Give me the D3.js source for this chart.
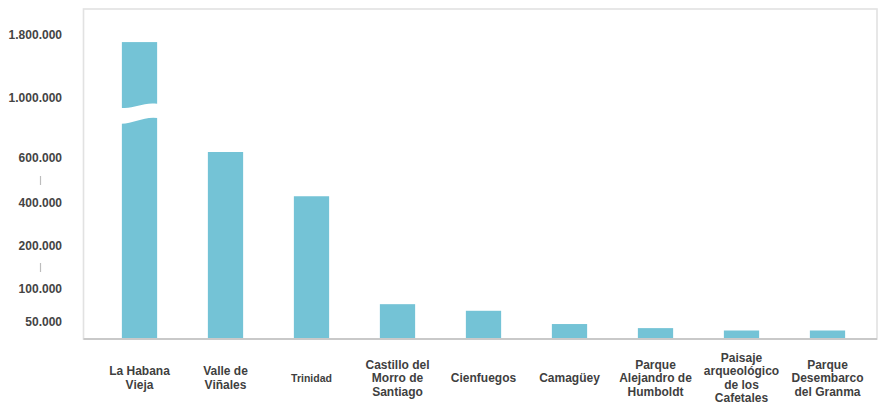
<!DOCTYPE html>
<html>
<head>
<meta charset="utf-8">
<script src="https://cdn.jsdelivr.net/npm/d3@7"></script>
<style>
  html, body { margin: 0; padding: 0; background: #fff; }
  svg { display: block; }
</style>
</head>
<body>
<div id="chart"></div>
<script>
// ---- data ----
const SITES = [
  ['La Habana', 'Vieja'],
  ['Valle de', 'Viñales'],
  ['Trinidad'],
  ['Castillo del', 'Morro de', 'Santiago'],
  ['Cienfuegos'],
  ['Camagüey'],
  ['Parque', 'Alejandro de', 'Humboldt'],
  ['Paisaje', 'arqueológico', 'de los', 'Cafetales'],
  ['Parque', 'Desembarco', 'del Granma']
];
const VISITORS = [1710000, 640000, 430000, 77000, 67000, 44000, 32000, 25000, 25000];

// broken, piecewise axis
const Y_TICKS = [50000, 100000, 200000, 400000, 600000, 1000000, 1800000];
const Y_BREAKS = [150000, 500000];   // little "|" marks between labels
const BAR_BREAK = 1000000;           // where the tall bar is cut

const W = 884, H = 412;
const m = { t: 9, r: 7, b: 73, l: 83.5 };
const fmt = d3.formatLocale({ decimal: ',', thousands: '.', grouping: [3], currency: ['', ''] }).format(',d');

const svg = d3.select('#chart').append('svg')
  .attr('width', W).attr('height', H);

const names = SITES.map(s => s.join(' '));

const x = d3.scaleBand()
  .domain(names)
  .range([96.5, 870.5])
  .paddingInner(0.59)
  .paddingOuter(0.295);

// polylinear scale mimics the hand-spaced axis of the original
const y = d3.scaleLinear()
  .domain([0, 50000, 100000, 200000, 400000, 600000, 1000000, 1800000])
  .range([339, 322, 289, 246, 203, 158, 98, 35]);

// frame
svg.append('rect')
  .attr('x', m.l).attr('y', m.t)
  .attr('width', W - m.r - m.l).attr('height', 339 - m.t)
  .attr('fill', 'none')
  .attr('stroke', '#e2e2e2').attr('stroke-width', 1.6);

// bars
svg.append('g').selectAll('rect').data(VISITORS).join('rect')
  .attr('x', (d, i) => x(names[i]))
  .attr('width', x.bandwidth())
  .attr('y', d => y(d))
  .attr('height', d => y(0) - y(d))
  .attr('fill', '#74c3d6');

// wavy cut through the tallest bar
const bi = VISITORS.indexOf(d3.max(VISITORS));
const bx0 = x(names[bi]) - 7, bx1 = x(names[bi]) + x.bandwidth() + 5;
const by = y(BAR_BREAK);
const bw = bx1 - bx0;
svg.append('path')
  .attr('d', `M${bx0},${by + 8}
    C${bx0 + bw * 0.35},${by + 15} ${bx0 + bw * 0.6},${by + 1} ${bx1},${by + 7}
    L${bx1},${by + 21}
    C${bx0 + bw * 0.6},${by + 16} ${bx0 + bw * 0.35},${by + 29} ${bx0},${by + 25} Z`)
  .attr('fill', '#fff');

// baseline
svg.append('line')
  .attr('x1', m.l).attr('x2', W - m.r)
  .attr('y1', y(0)).attr('y2', y(0))
  .attr('stroke', '#c9c9c9').attr('stroke-width', 2);

// y axis labels
const yAxis = svg.append('g')
  .attr('transform', `translate(${m.l},0)`)
  .call(d3.axisLeft(y).tickValues(Y_TICKS).tickFormat(fmt).tickSize(0).tickPadding(21.5));
yAxis.select('.domain').remove();
yAxis.selectAll('text')
  .attr('font-family', 'Liberation Sans, Arial, sans-serif')
  .attr('font-weight', 700)
  .attr('font-size', 12)
  .attr('fill', '#444');

// break marks on the axis
svg.append('g').selectAll('line').data(Y_BREAKS).join('line')
  .attr('x1', 40.5).attr('x2', 40.5)
  .attr('y1', d => y(d) - 4.5).attr('y2', d => y(d) + 4.5)
  .attr('stroke', '#bdbdbd').attr('stroke-width', 1.2);

// category labels
const LH = 13.5;
const lab = svg.append('g').selectAll('text').data(SITES).join('text')
  .attr('text-anchor', 'middle')
  .attr('font-family', 'Liberation Sans, Arial, sans-serif')
  .attr('font-weight', 700)
  .attr('font-size', d => d.length === 1 && d[0] === 'Trinidad' ? 10.5 : 12)
  .attr('fill', '#3f3f3f');
lab.each(function (lines, i) {
  const cx = x(names[i]) + x.bandwidth() / 2;
  const y0 = 378 - (lines.length - 1) * LH / 2;
  d3.select(this).selectAll('tspan').data(lines).join('tspan')
    .attr('x', cx)
    .attr('y', (d, j) => y0 + j * LH)
    .attr('dominant-baseline', 'central')
    .text(d => d);
});
</script>
</body>
</html>
